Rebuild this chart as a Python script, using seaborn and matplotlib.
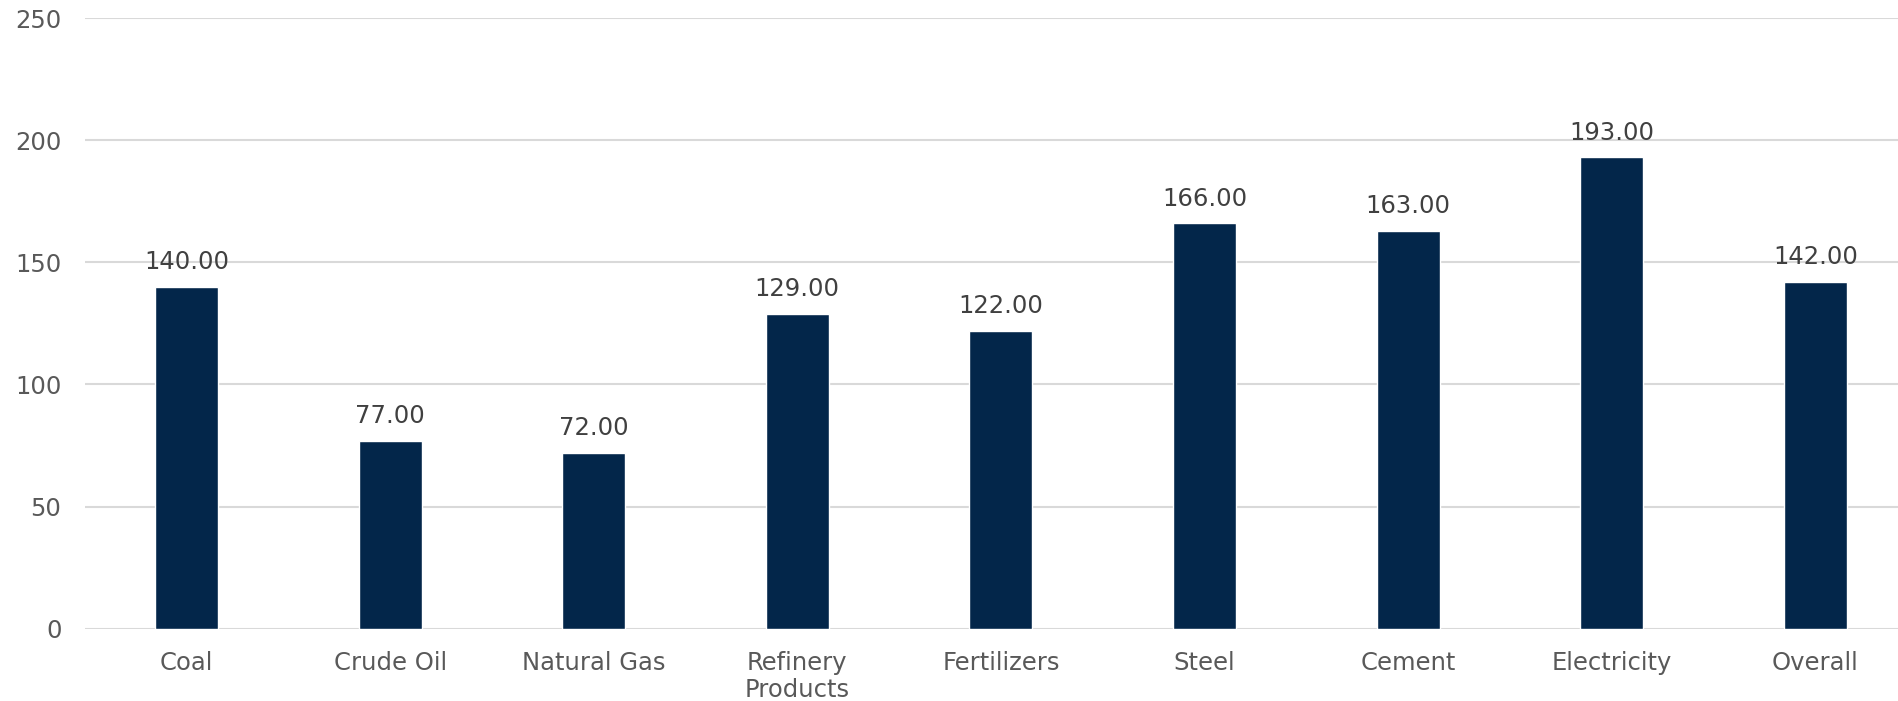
import matplotlib
matplotlib.use("Agg")
import matplotlib.pyplot as plt
import seaborn as sns
import pandas as pd

categories = ["Coal", "Crude Oil", "Natural Gas", "Refinery\nProducts", "Fertilizers",
              "Steel", "Cement", "Electricity", "Overall"]
values = [140, 77, 72, 129, 122, 166, 163, 193, 142]
y_ticks = [0, 50, 100, 150, 200, 250]

sns.set_theme(style="white")
plt.rcParams["font.family"] = ["DejaVu Sans"]

df = pd.DataFrame({"category": categories, "value": values})

fig = plt.figure(figsize=(18.99, 7.01), dpi=100)
ax = fig.add_axes([85 / 1899, 1 - 628.6 / 701, 1814 / 1899, (628.6 - 18.2) / 701])

sns.barplot(data=df, x="category", y="value", color="#03264A", width=0.31,
            saturation=1, ax=ax, zorder=3)

ax.set_ylim(0, 250)
ax.set_xlim(-0.4985, 8.411)
ax.set_yticks(y_ticks)
ax.yaxis.grid(True, color="#D9D9D9", linewidth=1.5, zorder=0)
ax.set_axisbelow(True)
for s in ax.spines.values():
    s.set_visible(False)

ax.set_xlabel("")
ax.set_ylabel("")
ax.tick_params(axis="y", length=0, pad=17, labelsize=17.5, labelcolor="#595959")
ax.tick_params(axis="x", length=0, pad=16, labelsize=17.5, labelcolor="#595959")
for lbl in ax.get_xticklabels():
    lbl.set_linespacing(1.15)

for container in ax.containers:
    ax.bar_label(container, labels=[f"{v:.2f}" for v in values], padding=9,
                 fontsize=17.5, color="#404040")

fig.savefig("out.png", dpi=100)
